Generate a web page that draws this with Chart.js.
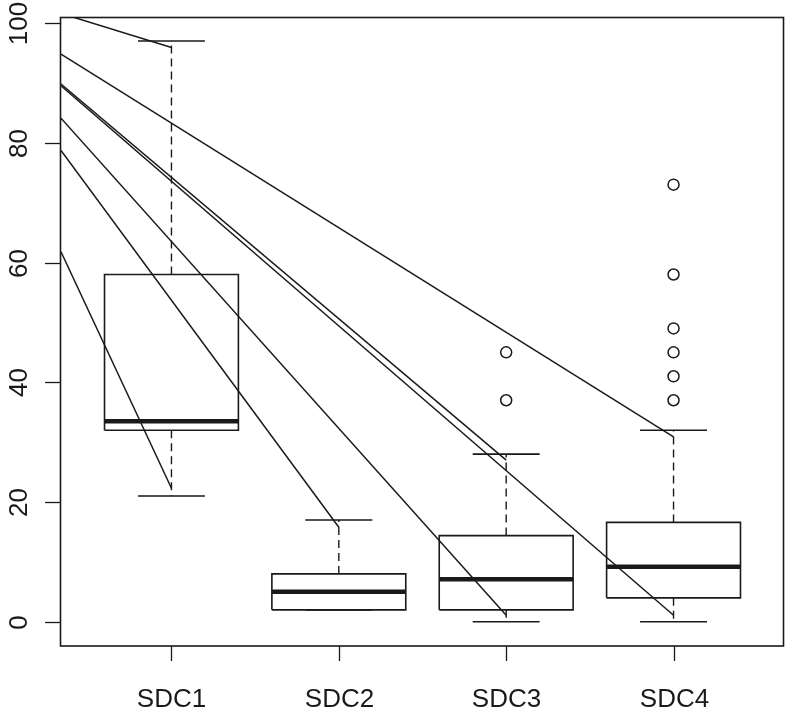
<!DOCTYPE html>
<html>
<head>
<meta charset="utf-8">
<script src="https://cdn.jsdelivr.net/npm/chart.js@4"></script>
<style>
  html, body { margin: 0; padding: 0; background: #fff; }
  canvas { display: block; }
</style>
</head>
<body>
<canvas id="boxChart" width="785" height="713"></canvas>
<script>
const categories = ["SDC1", "SDC2", "SDC3", "SDC4"];
const lowerWhisker = [21, 2, 0, 0];
const q1 = [32, 2, 2, 4];
const median = [33.5, 5, 7.1, 9.2];
const q3 = [58, 8, 14.4, 16.6];
const upperWhisker = [97, 17, 28, 32];
const outliers = [[], [], [37, 45], [37, 41, 45, 49, 58, 73]];

// straight lines over the boxes: value at the left edge -> value at a group
const lineStart = [101.6, 94.8, 89.8, 89.5, 84.1, 78.7, 61.8];
const lineEndGroup = [1, 4, 3, 4, 3, 2, 1];
const lineEnd = [95.9, 30.9, 27, 1.1, 1.1, 15.8, 22.3];

const yTicks = [0, 20, 40, 60, 80, 100];

const X_MIN = 0.34, X_MAX = 4.66;
const BOX_HALF = 0.4, CAP_HALF = 0.2;
const INK = "#1a1a1a";
const FONT = "26px 'Liberation Sans', Arial, sans-serif";

const datasets = [];

categories.forEach((name, i) => {
  const c = i + 1;
  // box outline
  datasets.push({
    data: [
      { x: c - BOX_HALF, y: q1[i] }, { x: c + BOX_HALF, y: q1[i] },
      { x: c + BOX_HALF, y: q3[i] }, { x: c - BOX_HALF, y: q3[i] },
      { x: c - BOX_HALF, y: q1[i] },
    ],
    borderColor: INK, borderWidth: 1.6,
  });
  // median
  datasets.push({
    data: [{ x: c - BOX_HALF, y: median[i] }, { x: c + BOX_HALF, y: median[i] }],
    borderColor: INK, borderWidth: 4.5, borderCapStyle: "butt",
  });
  // whiskers (dashed)
  datasets.push({
    data: [{ x: c, y: q3[i] }, { x: c, y: upperWhisker[i] }, { x: c, y: null },
           { x: c, y: q1[i] }, { x: c, y: lowerWhisker[i] }],
    borderColor: INK, borderWidth: 1.4, borderDash: [8, 5],
  });
  // staples
  datasets.push({
    data: [{ x: c - CAP_HALF, y: upperWhisker[i] }, { x: c + CAP_HALF, y: upperWhisker[i] },
           { x: c, y: null },
           { x: c - CAP_HALF, y: lowerWhisker[i] }, { x: c + CAP_HALF, y: lowerWhisker[i] }],
    borderColor: INK, borderWidth: 1.6,
  });
  // outliers
  if (outliers[i].length) {
    datasets.push({
      type: "scatter",
      data: outliers[i].map(v => ({ x: c, y: v })),
      showLine: false,
      pointStyle: "circle",
      pointRadius: 5.5,
      pointBorderWidth: 1.5,
      pointBorderColor: INK,
      pointBackgroundColor: "rgba(0,0,0,0)",
    });
  }
});

lineStart.forEach((v, k) => {
  datasets.push({
    data: [{ x: X_MIN, y: v }, { x: lineEndGroup[k], y: lineEnd[k] }],
    borderColor: INK, borderWidth: 1.5,
  });
});

const rAxes = {
  id: "rAxes",
  afterDraw(chart) {
    const { ctx, chartArea: a, scales: { x, y } } = chart;
    ctx.save();
    ctx.strokeStyle = INK;
    ctx.lineWidth = 1.6;
    ctx.strokeRect(a.left - 0.5, a.top + 0.5, a.right - a.left, a.bottom - a.top - 0.5);

    ctx.lineWidth = 1.3;
    ctx.fillStyle = INK;
    ctx.font = FONT;

    // y axis ticks and rotated labels
    yTicks.forEach(v => {
      const py = Math.round(y.getPixelForValue(v)) + 0.5;
      ctx.beginPath();
      ctx.moveTo(a.left - 16, py);
      ctx.lineTo(a.left - 1, py);
      ctx.stroke();
      ctx.save();
      ctx.translate(26.5, py);
      ctx.rotate(-Math.PI / 2);
      ctx.textAlign = "center";
      ctx.textBaseline = "alphabetic";
      ctx.fillText(String(v), 0, 0);
      ctx.restore();
    });

    // x axis ticks and labels
    ctx.textAlign = "center";
    ctx.textBaseline = "alphabetic";
    categories.forEach((name, i) => {
      const px = Math.round(x.getPixelForValue(i + 1)) + 0.5;
      ctx.beginPath();
      ctx.moveTo(px, a.bottom);
      ctx.lineTo(px, a.bottom + 15);
      ctx.stroke();
      ctx.fillText(name, px, 707);
    });
    ctx.restore();
  }
};

new Chart(document.getElementById("boxChart").getContext("2d"), {
  type: "line",
  data: { datasets },
  options: {
    responsive: false,
    animation: false,
    layout: { autoPadding: false, padding: { left: 61, right: 1, top: 17, bottom: 67 } },
    elements: {
      point: { radius: 0 },
      line: { tension: 0, fill: false },
    },
    spanGaps: false,
    scales: {
      x: { type: "linear", min: X_MIN, max: X_MAX, display: false },
      y: { type: "linear", min: -4.04, max: 101, display: false },
    },
    plugins: {
      legend: { display: false },
      tooltip: { enabled: false },
    },
  },
  plugins: [rAxes],
});
</script>
</body>
</html>
